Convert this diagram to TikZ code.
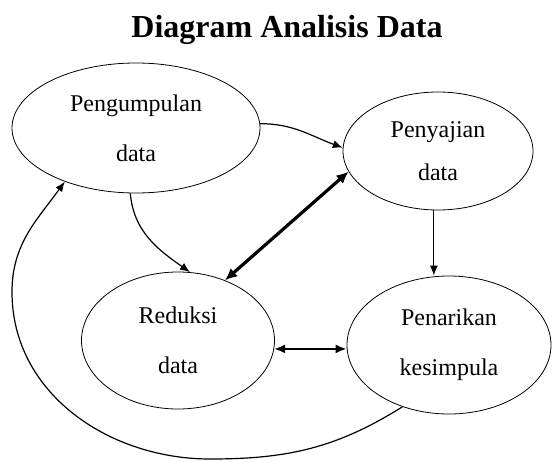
\documentclass[tikz,border=0pt]{standalone}
\usepackage{fontspec}
\setmainfont{Liberation Serif}
\usetikzlibrary{arrows.meta,shapes.geometric}
\begin{document}
\begin{tikzpicture}[x=1pt,y=1pt,
  bub/.style={draw,ellipse,line width=0.8pt,inner sep=0pt,align=center,font=\fontsize{24}{50}\selectfont},
  con/.style={line width=1.2pt,-{Latex[length=10pt,width=8pt]}},
  thickcon/.style={line width=3.2pt,{Latex[length=12pt,width=11pt]}-{Latex[length=12pt,width=11pt]}},
  midcon/.style={line width=2pt,{Latex[length=11pt,width=9pt]}-{Latex[length=11pt,width=9pt]}}]
\useasboundingbox (0,0) rectangle (552,-461);
\node[font=\fontsize{32}{36}\selectfont\bfseries,anchor=base] (title) at (287,-37) {Diagram Analisis Data};
\node[bub,minimum width=248,minimum height=130] (pg) at (136,-128) {Pengumpulan\\data};
\node[bub,minimum width=190,minimum height=118,font=\fontsize{24}{43}\selectfont] (sj) at (438,-151) {Penyajian\\data};
\node[bub,minimum width=193,minimum height=137] (rd) at (178,-340.5) {Reduksi\\data};
\node[bub,minimum width=204,minimum height=138] (pk) at (449,-345) {Penarikan\\kesimpula};
\draw[con] (pg.2) to[out=0,in=160] (sj.178);
\draw[con] (pg.265) to[out=275,in=145] (rd.80);
\draw[thickcon] (rd.52) -- (sj.193);
\draw[con] (sj.266) -- (sj.266 |- pk.north);
\draw[midcon] (rd.355) -- (rd.355 -| pk.west);
\coordinate (b1) at (210,-459);
\coordinate (l1) at (12,-292);
\draw[con] (pk.233) to[out=212,in=0] (b1) to[out=180,in=270] (l1) to[out=90,in=234] (pg.217);
\end{tikzpicture}
\end{document}
